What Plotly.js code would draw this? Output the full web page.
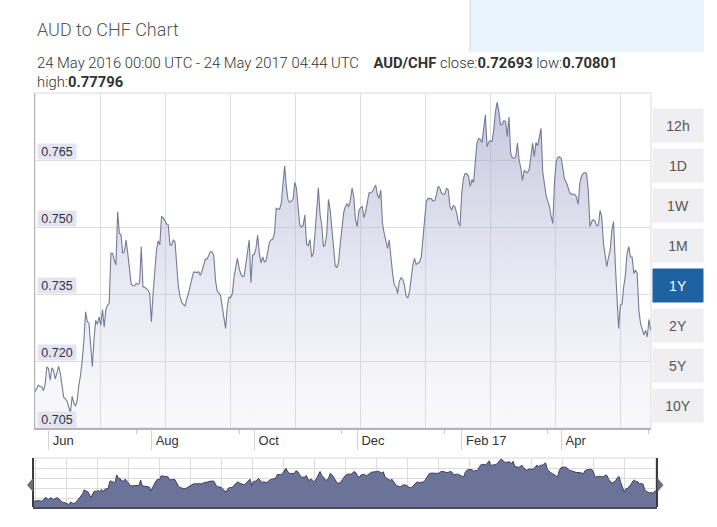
<!DOCTYPE html>
<html>
<head>
<meta charset="utf-8">
<script src="https://cdn.plot.ly/plotly-3.0.1.min.js"></script>
<style>
html,body{margin:0;padding:0;background:#fff;}
#chart{width:717px;height:527px;}
</style>
</head>
<body>
<div id="chart"></div>
<script>
// ---- data ----
const startDate = '2016-05-24';
const endTime = '2017-05-24 04:44';
const rates = [
0.7131,0.7138,0.7146,0.7143,0.7142,0.7134,0.7147,0.7187,0.7183,0.7157,
0.7185,0.7179,0.7160,0.7173,0.7188,0.7173,0.7149,0.7119,0.7115,0.7110,
0.7097,0.7082,0.7121,0.7106,0.7099,0.7112,0.7146,0.7168,0.7202,0.7246,
0.7310,0.7288,0.7284,0.7232,0.7187,0.7250,0.7291,0.7282,0.7299,0.7280,
0.7315,0.7276,0.7315,0.7325,0.7329,0.7441,0.7441,0.7426,0.7415,0.7534,
0.7486,0.7482,0.7441,0.7445,0.7471,0.7441,0.7404,0.7372,0.7369,0.7368,
0.7374,0.7371,0.7375,0.7456,0.7366,0.7365,0.7362,0.7359,0.7351,0.7288,
0.7351,0.7396,0.7448,0.7469,0.7460,0.7523,0.7521,0.7514,0.7507,0.7505,
0.7460,0.7460,0.7471,0.7467,0.7419,0.7366,0.7344,0.7331,0.7327,0.7323,
0.7340,0.7351,
0.7368,0.7387,0.7399,0.7399,0.7398,0.7400,0.7392,0.7401,0.7417,0.7428,
0.7428,0.7435,0.7445,0.7444,0.7436,0.7381,0.7356,0.7353,0.7347,0.7321,
0.7290,0.7273,0.7321,0.7343,0.7342,0.7351,0.7389,0.7411,0.7430,0.7408,
0.7395,0.7389,0.7390,0.7417,0.7447,0.7471,0.7375,0.7437,0.7439,0.7452,
0.7482,0.7441,0.7419,0.7433,0.7422,0.7424,0.7445,0.7466,0.7471,0.7473,
0.7486,0.7542,0.7540,0.7540,0.7553,0.7591,0.7637,0.7591,0.7561,0.7555,
0.7559,0.7562,0.7600,0.7587,0.7543,0.7504,0.7500,0.7504,0.7527,0.7461,
0.7458,0.7472,0.7433,0.7441,0.7486,0.7546,0.7588,0.7528,0.7504,0.7456,
0.7460,0.7486,0.7562,0.7538,0.7501,0.7448,0.7413,0.7410,0.7422,0.7463,
0.7507,0.7532,0.7546,0.7552,0.7545,0.7562,0.7587,0.7568,0.7516,0.7501,
0.7536,0.7543,0.7546,0.7521,0.7534,0.7557,0.7576,0.7577,0.7579,0.7587,
0.7594,0.7572,0.7564,0.7583,0.7508,0.7486,0.7471,0.7452,0.7471,0.7426,
0.7396,0.7370,0.7366,0.7351,0.7379,0.7386,0.7383,0.7370,0.7346,0.7341,
0.7355,0.7384,0.7415,0.7430,0.7416,0.7419,0.7421,0.7433,0.7478,0.7523,
0.7558,0.7564,0.7564,0.7563,0.7558,0.7559,0.7573,0.7591,0.7587,0.7576,
0.7573,0.7574,0.7587,0.7583,0.7546,0.7538,0.7548,0.7545,0.7531,0.7510,
0.7502,0.7576,0.7609,0.7620,0.7619,0.7614,0.7591,0.7606,0.7600,0.7637,
0.7688,0.7698,0.7696,0.7689,0.7718,0.7751,0.7680,0.7690,0.7693,0.7692,
0.7718,0.7759,0.77796,0.7759,0.7729,0.7730,0.7738,0.7736,0.7703,0.7746,
0.7665,0.7655,0.7654,0.7657,0.7688,0.7650,0.7632,0.7604,0.7627,0.7623,
0.7622,0.7629,0.7658,0.7688,0.7658,0.7689,0.7682,0.7699,0.7721,0.7624,
0.7594,0.7570,0.7558,0.7546,0.7523,0.7508,0.7602,0.7647,0.7656,0.7657,
0.7653,0.7632,0.7606,0.7600,0.7588,0.7577,0.7573,0.7574,0.7573,0.7567,
0.7551,0.7598,0.7614,0.7620,0.7622,0.7620,0.7583,0.7501,0.7512,0.7516,
0.7513,0.7503,0.7504,0.7537,0.7523,0.7463,0.7437,0.7411,0.7432,0.7448,
0.7493,0.7512,0.7419,0.7359,0.7273,0.7325,0.7327,0.7366,0.7392,0.7441,
0.7456,0.7433,0.7433,0.7396,0.7404,0.7396,0.7314,0.7284,0.7269,0.7258,
0.7269,0.7254,0.7293,0.72693
];
const yTicks = [0.705, 0.720, 0.735, 0.750, 0.765];
const monthTicks = ['2016-06-01','2016-08-01','2016-10-01','2016-12-01','2017-02-01','2017-04-01'];
const monthLabels = ['Jun','Aug','Oct','Dec','Feb 17','Apr'];
const minorTicks = ['2016-07-23','2016-09-22','2016-11-22','2017-01-22','2017-03-24','2017-05-23'];
const rangeButtons = ['12h','1D','1W','1M','1Y','2Y','5Y','10Y'];
const activeButton = '1Y';
const pairName = 'AUD/CHF';
const closeVal = '0.72693', lowVal = '0.70801', highVal = '0.77796';
const periodText = '24 May 2016 00:00 UTC - 24 May 2017 04:44 UTC';

// ---- build dates ----
const t0 = Date.parse(startDate + 'T00:00:00Z');
const dates = rates.map((_, i) => new Date(t0 + i * 86400000).toISOString().slice(0, 10));

// ---- geometry helpers (page pixels -> paper) ----
const ML = 33, MR = 60, MT = 93, MB = 20, W = 717, H = 527;
const PW = W - ML - MR, PH = H - MT - MB;
const px = x => (x - ML) / PW;
const py = y => (H - MB - y) / PH;

const FONT = 'Arial, "Liberation Sans", sans-serif';

const traces = [
  {
    x: dates, y: rates, type: 'scatter', mode: 'lines',
    xaxis: 'x', yaxis: 'y',
    line: {color: '#767a96', width: 1.1},
    fill: 'tozeroy',
    fillgradient: {
      type: 'vertical', start: 0.705, stop: 0.780,
      colorscale: [[0, 'rgba(205,207,228,0.12)'], [1, 'rgba(150,155,195,0.58)']]
    },
    hoverinfo: 'skip'
  },
  {x: [], y: [], xaxis: 'x2', yaxis: 'y', type: 'scatter', hoverinfo: 'skip'},
  {
    x: dates, y: rates, type: 'scatter', mode: 'lines',
    xaxis: 'x3', yaxis: 'y2',
    line: {color: '#3c4160', width: 1},
    fill: 'tozeroy', fillcolor: '#6b7399',
    hoverinfo: 'skip'
  },
  {x: [], y: [], xaxis: 'x4', yaxis: 'y2', type: 'scatter', hoverinfo: 'skip'}
];

const annotations = [];
// titles
annotations.push({xref: 'paper', yref: 'paper', x: px(35), y: py(30), xanchor: 'left', yanchor: 'middle',
  text: 'AUD to CHF Chart', showarrow: false,
  font: {family: 'Roboto, sans-serif', size: 18, color: '#555', weight: 300}});
annotations.push({xref: 'paper', yref: 'paper', x: px(35), y: py(63), xanchor: 'left', yanchor: 'middle',
  text: periodText + '\u00a0\u00a0\u00a0 <b>' + pairName + '</b> close:<b>' + closeVal + '</b> low:<b>' + lowVal + '</b>',
  showarrow: false, font: {family: 'Roboto, sans-serif', size: 14.8, color: '#333', weight: 300}});
annotations.push({xref: 'paper', yref: 'paper', x: px(35), y: py(82), xanchor: 'left', yanchor: 'middle',
  text: 'high:<b>' + highVal + '</b>',
  showarrow: false, font: {family: 'Roboto, sans-serif', size: 14.8, color: '#333', weight: 300}});
// y tick label boxes
yTicks.forEach(v => {
  annotations.push({xref: 'paper', yref: 'y', x: px(36.5), y: v, xanchor: 'left', yanchor: 'bottom',
    text: v.toFixed(3), showarrow: false, bgcolor: '#e4e4f0', borderpad: 1, width: 36, height: 13,
    align: 'center', font: {family: FONT, size: 12.5, color: '#2e3248'}});
});
// range buttons
rangeButtons.forEach((b, i) => {
  const active = b === activeButton;
  annotations.push({xref: 'paper', yref: 'paper', x: px(652), y: py(125.5 + 40 * i), xanchor: 'left', yanchor: 'middle',
    text: b, showarrow: false, width: 48, height: 31, borderpad: 1, align: 'center', valign: 'middle',
    bgcolor: active ? '#1f62a1' : '#efeff1',
    font: {family: FONT, size: 14, color: active ? '#ffffff' : '#555'}});
});

const shapes = [
  // header box top right
  {type: 'rect', xref: 'paper', yref: 'paper', x0: px(470), x1: px(704), y0: py(52), y1: py(-2),
    fillcolor: '#eaf4fd', line: {width: 0}},
  {type: 'line', xref: 'paper', yref: 'paper', x0: px(470), x1: px(470), y0: py(52), y1: py(-2),
    line: {color: '#d6d6d6', width: 1}},
  // main frame
  {type: 'rect', xref: 'x domain', yref: 'y domain', x0: 0, x1: 1, y0: 0, y1: 1,
    line: {color: '#dcdcdc', width: 1}, layer: 'below'},
  // navigator frame
  {type: 'rect', xref: 'x3 domain', yref: 'y2 domain', x0: 0, x1: 1, y0: 0, y1: 1,
    line: {color: '#d8d8d8', width: 1}, layer: 'below'},
  {type: 'line', xref: 'x3 domain', yref: 'y2 domain', x0: 0, x1: 0, y0: 0, y1: 1,
    line: {color: '#3a3a44', width: 2}},
  {type: 'line', xref: 'x3 domain', yref: 'y2 domain', x0: 1, x1: 1, y0: 0, y1: 1,
    line: {color: '#3a3a44', width: 2}},
  // navigator handles
  {type: 'path', xref: 'paper', yref: 'paper',
    path: `M ${px(27)} ${py(485)} L ${px(33)} ${py(478)} L ${px(33)} ${py(492)} Z`,
    fillcolor: '#707070', line: {width: 0}},
  {type: 'path', xref: 'paper', yref: 'paper',
    path: `M ${px(663.5)} ${py(485)} L ${px(657.5)} ${py(478)} L ${px(657.5)} ${py(492)} Z`,
    fillcolor: '#707070', line: {width: 0}}
];

const layout = {
  width: W, height: H,
  margin: {l: ML, r: MR, t: MT, b: MB, pad: 0},
  paper_bgcolor: '#ffffff', plot_bgcolor: '#ffffff',
  showlegend: false, hovermode: false,
  xaxis: {
    type: 'date', range: [startDate, endTime], domain: [px(35), px(651)], anchor: 'y',
    tickmode: 'array', tickvals: monthTicks, ticktext: monthLabels,
    ticks: 'outside', ticklen: 20, tickwidth: 1, tickcolor: '#d4d4d4',
    ticklabelposition: 'outside right', ticklabelshift: 3,
    tickfont: {family: FONT, size: 13, color: '#333'},
    minor: {tickmode: 'array', tickvals: minorTicks, ticks: 'outside', ticklen: 4, tickcolor: '#c8c8c8', showgrid: false},
    showgrid: false, zeroline: false, showline: true, linecolor: '#b4b4b4', linewidth: 1.5, fixedrange: true
  },
  xaxis2: {
    overlaying: 'x', anchor: 'y', side: 'top', range: [0, 616], tick0: 0, dtick: 65,
    showgrid: true, gridcolor: '#dedede', gridwidth: 1, showticklabels: false, ticks: '',
    zeroline: false, showline: false, fixedrange: true
  },
  yaxis: {
    range: [0.705, 0.780], domain: [py(428), py(93)], anchor: 'x',
    tickmode: 'array', tickvals: yTicks, showticklabels: false, ticks: '',
    showgrid: true, gridcolor: '#dedede', gridwidth: 1,
    zeroline: false, showline: true, linecolor: '#b4b4b4', linewidth: 1.5, fixedrange: true
  },
  xaxis3: {
    type: 'date', range: [startDate, endTime], domain: [0, 1], anchor: 'y2',
    showticklabels: false, ticks: '', showgrid: false, zeroline: false,
    showline: true, linecolor: '#4a4a55', linewidth: 1.5, fixedrange: true
  },
  xaxis4: {
    overlaying: 'x3', anchor: 'y2', range: [0, 624], tick0: 2, dtick: 31,
    showgrid: true, gridcolor: '#dcdcdc', showticklabels: false, ticks: '',
    zeroline: false, showline: false, fixedrange: true
  },
  yaxis2: {
    range: [0.7045, 0.7795], domain: [0, py(458)], anchor: 'x3',
    tick0: 0.7795, dtick: 0.01531, showticklabels: false, ticks: '',
    showgrid: true, gridcolor: '#dcdcdc', zeroline: false, showline: false, fixedrange: true
  },
  annotations: annotations,
  shapes: shapes
};

Plotly.newPlot('chart', traces, layout, {displayModeBar: false, staticPlot: true});
</script>
</body>
</html>
